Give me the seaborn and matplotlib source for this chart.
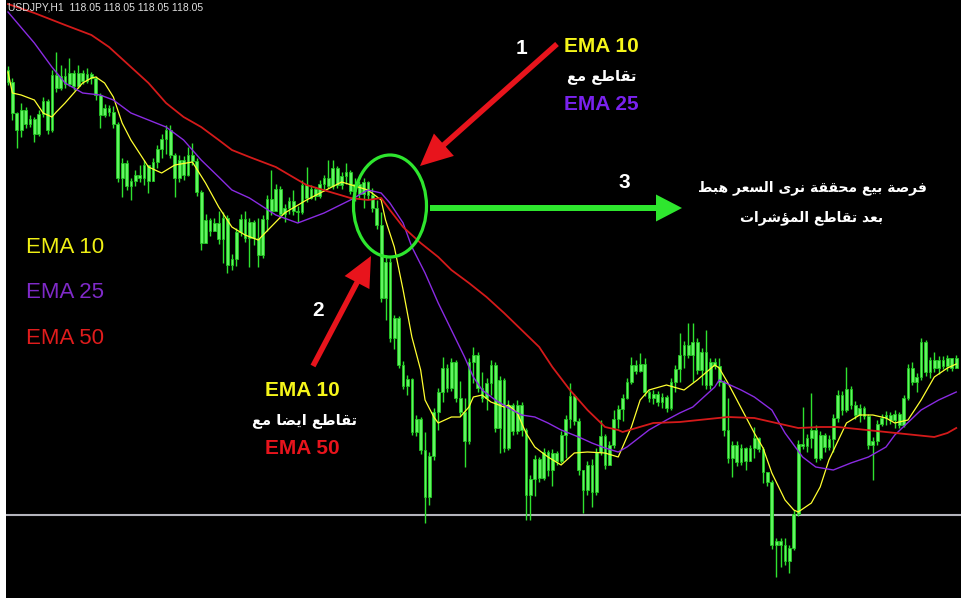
import numpy as np
import pandas as pd
import matplotlib
matplotlib.use("Agg")
import matplotlib.pyplot as plt
import seaborn as sns
from matplotlib.patches import Ellipse, Polygon
from matplotlib.lines import Line2D

# ---------------- data (USDJPY H1) ----------------
header = "USDJPY,H1  118.05 118.05 118.05 118.05"
first_open = 121.30
close = [121.18, 120.87, 120.70, 120.90, 120.76, 120.81, 120.66, 120.86, 120.99, 120.70,
         121.25, 121.12, 121.24, 121.16, 121.27, 121.14, 121.27, 121.19, 121.26, 121.22,
         121.05, 120.85, 120.92, 120.88, 120.76, 120.22, 120.37, 120.14, 120.19, 120.25,
         120.22, 120.35, 120.19, 120.38, 120.51, 120.61, 120.70, 120.45, 120.22, 120.40,
         120.25, 120.45, 120.39, 120.08, 119.57, 119.80, 119.69, 119.77, 119.61, 119.82,
         119.35, 119.41, 119.68, 119.81, 119.62, 119.78, 119.62, 119.45, 119.81, 120.01,
         119.89, 120.11, 119.86, 119.92, 119.99, 119.89, 119.88, 120.15, 120.02, 120.11,
         120.04, 120.16, 120.22, 120.14, 120.32, 120.15, 120.24, 120.28, 120.09, 120.16,
         120.06, 120.18, 120.05, 119.92, 119.75, 119.02, 119.38, 118.62, 118.82, 118.35,
         118.14, 118.21, 117.68, 117.81, 117.50, 117.03, 117.44, 117.88, 118.08, 118.32,
         118.12, 118.38, 118.02, 117.88, 117.59, 118.38, 118.45, 118.12, 118.02, 118.17,
         118.35, 117.72, 118.20, 117.52, 117.95, 117.69, 117.95, 117.70, 117.05, 117.21,
         117.41, 117.22, 117.48, 117.30, 117.47, 117.39, 117.65, 117.81, 118.04, 117.79,
         117.30, 117.10, 117.35, 117.08, 117.48, 117.64, 117.35, 117.55, 117.81, 117.91,
         118.02, 118.18, 118.35, 118.29, 118.36, 118.08, 118.02, 118.06, 117.98, 118.03,
         117.92, 118.18, 118.31, 118.45, 118.55, 118.45, 118.58, 118.30, 118.48, 118.15,
         118.38, 118.34, 118.18, 117.70, 117.42, 117.55, 117.38, 117.52, 117.39, 117.52,
         117.62, 117.51, 117.28, 117.18, 116.55, 116.59, 116.55, 116.39, 116.52, 116.86,
         117.56, 117.54, 117.62, 117.70, 117.42, 117.65, 117.53, 117.61, 117.82, 118.05,
         117.90, 118.11, 117.95, 117.85, 117.92, 117.84, 117.55, 117.59, 117.76, 117.82,
         117.85, 117.80, 117.86, 117.75, 118.02, 118.32, 118.18, 118.23, 118.58, 118.28,
         118.40, 118.32, 118.40, 118.34, 118.42, 118.32, 118.42]
high = [121.34, 121.22, 120.88, 120.97, 120.93, 120.85, 120.83, 120.90, 121.03, 121.01,
        121.30, 121.48, 121.35, 121.32, 121.42, 121.30, 121.35, 121.30, 121.32, 121.28,
        121.24, 121.07, 120.96, 120.95, 120.94, 120.78, 120.42, 120.40, 120.22, 120.30,
        120.35, 120.40, 120.34, 120.42, 120.55, 120.66, 120.75, 120.75, 120.47, 120.45,
        120.44, 120.53, 120.57, 120.42, 120.10, 119.86, 119.82, 119.82, 119.89, 119.88,
        119.85, 119.46, 119.72, 119.86, 119.89, 119.82, 119.80, 119.82, 119.85, 120.05,
        120.30, 120.16, 120.14, 119.96, 120.03, 120.10, 119.94, 120.20, 120.33, 120.15,
        120.13, 120.20, 120.25, 120.40, 120.40, 120.34, 120.28, 120.37, 120.30, 120.22,
        120.19, 120.22, 120.19, 120.12, 120.00, 119.88, 119.45, 119.42, 118.85, 118.84,
        118.39, 118.25, 118.22, 117.85, 117.83, 117.68, 117.48, 117.92, 118.12, 118.43,
        118.36, 118.42, 118.40, 118.19, 118.02, 118.42, 118.53, 118.48, 118.28, 118.22,
        118.40, 118.38, 118.24, 118.22, 118.00, 117.97, 118.00, 117.98, 117.72, 117.25,
        117.45, 117.43, 117.52, 117.50, 117.51, 117.49, 117.69, 117.85, 118.17, 118.06,
        117.82, 117.30, 117.39, 117.41, 117.52, 117.80, 117.66, 117.59, 117.90, 117.95,
        118.06, 118.22, 118.43, 118.40, 118.47, 118.42, 118.10, 118.10, 118.09, 118.07,
        118.05, 118.22, 118.35, 118.67, 118.59, 118.77, 118.77, 118.62, 118.52, 118.70,
        118.42, 118.42, 118.42, 118.20, 118.02, 117.59, 117.59, 117.56, 117.53, 117.55,
        117.73, 117.63, 117.53, 117.25, 117.20, 116.62, 116.62, 116.62, 116.55, 116.90,
        117.60, 117.93, 117.66, 118.07, 117.75, 117.69, 117.67, 117.65, 117.86, 118.10,
        118.09, 118.33, 118.14, 117.99, 117.96, 117.94, 117.86, 117.63, 117.80, 117.86,
        117.89, 117.88, 117.90, 117.88, 118.05, 118.36, 118.38, 118.27, 118.62, 118.60,
        118.43, 118.48, 118.44, 118.44, 118.45, 118.38, 118.45]
low = [121.15, 120.80, 120.52, 120.63, 120.72, 120.73, 120.58, 120.64, 120.83, 120.66,
       120.68, 121.08, 121.10, 121.12, 121.14, 121.10, 121.12, 121.16, 121.17, 121.16,
       121.00, 120.72, 120.83, 120.84, 120.72, 120.18, 120.03, 120.10, 120.00, 120.14,
       120.18, 120.15, 120.07, 120.20, 120.32, 120.42, 120.46, 120.42, 120.03, 120.18,
       120.20, 120.24, 120.35, 120.04, 119.50, 119.60, 119.64, 119.70, 119.56, 119.37,
       119.27, 119.30, 119.34, 119.64, 119.58, 119.33, 119.55, 119.33, 119.42, 119.69,
       119.85, 119.91, 119.82, 119.78, 119.86, 119.85, 119.78, 119.86, 119.98, 120.01,
       120.00, 120.02, 120.09, 120.12, 120.11, 120.12, 120.11, 120.16, 120.06, 119.99,
       120.02, 119.92, 120.01, 119.88, 119.71, 118.98, 118.80, 118.58, 118.51, 118.32,
       118.11, 118.05, 117.65, 117.64, 117.46, 116.77, 116.95, 117.40, 117.70, 117.98,
       118.08, 118.09, 117.98, 117.84, 117.33, 117.56, 118.17, 118.08, 117.98, 117.90,
       118.05, 117.68, 117.47, 117.48, 117.50, 117.65, 117.66, 117.64, 116.80, 116.80,
       117.04, 117.18, 117.20, 117.24, 117.14, 117.35, 117.37, 117.42, 117.72, 117.75,
       117.25, 116.87, 117.05, 116.93, 117.05, 117.45, 117.31, 117.37, 117.52, 117.72,
       117.79, 118.01, 118.16, 118.26, 118.28, 118.04, 117.98, 117.96, 117.94, 117.92,
       117.88, 117.90, 118.08, 118.18, 118.32, 118.42, 118.18, 118.26, 118.15, 118.11,
       118.11, 118.31, 118.14, 117.64, 117.37, 117.23, 117.34, 117.35, 117.30, 117.41,
       117.42, 117.48, 117.17, 117.14, 116.51, 116.23, 116.33, 116.35, 116.27, 116.50,
       116.84, 117.51, 117.48, 117.52, 117.38, 117.40, 117.48, 117.50, 117.48, 117.78,
       117.85, 117.88, 117.91, 117.81, 117.78, 117.81, 117.51, 117.20, 117.55, 117.74,
       117.75, 117.76, 117.72, 117.72, 117.73, 118.00, 118.15, 118.08, 118.20, 118.24,
       118.22, 118.28, 118.26, 118.31, 118.29, 118.29, 118.32]

# moving-average lines (candle index, price)
ema10_idx = [0, 1, 3, 6, 8, 10, 11, 13, 15, 17, 19, 20, 22, 24, 26, 28, 32, 35, 38, 42,
             45, 48, 51, 54, 57, 63, 68, 76, 82, 85, 86, 88, 90, 92, 94, 95, 97, 98, 101,
             103, 105, 106, 108, 110, 113, 114, 116, 118, 120, 123, 126, 129, 132, 136, 139,
             142, 144, 146, 150, 154, 157, 161, 162, 164, 170, 172, 174, 177, 179, 180, 183,
             185, 187, 191, 194, 197, 200, 202, 205, 208, 211, 214, 216]
ema10_val = [121.28, 121.07, 121.05, 121.00, 120.87, 120.83, 120.88, 120.97, 121.07, 121.17,
             121.22, 121.23, 121.17, 121.03, 120.77, 120.60, 120.33, 120.27, 120.35, 120.38,
             120.17, 119.93, 119.73, 119.65, 119.60, 119.87, 120.00, 120.18, 120.10, 120.00,
             119.80, 119.53, 119.10, 118.63, 118.30, 118.00, 117.83, 117.77, 117.83,
             117.83, 117.93, 118.03, 118.05, 117.98, 117.93, 117.95, 117.87, 117.67, 117.53,
             117.43, 117.35, 117.47, 117.48, 117.47, 117.43,
             117.73, 118.00, 118.10, 118.15, 118.10, 118.20, 118.35, 118.32, 118.17, 117.67,
             117.52, 117.27, 117.00, 116.90, 116.88, 116.97,
             117.13, 117.40, 117.77, 117.85, 117.85, 117.82, 117.77, 117.80, 118.00, 118.23,
             118.32, 118.36]
ema25_idx = [0, 6, 10, 13, 17, 21, 24, 28, 32, 36, 40, 44, 48, 51, 55, 61, 66, 72, 78, 82,
             85, 87, 90, 92, 95, 98, 101, 104, 106, 108, 111, 114, 117, 120, 123, 126, 130,
             133, 136, 139, 141, 146, 150, 153, 156, 161, 162, 167, 170, 174, 177, 181, 184,
             188, 192, 196, 200, 202, 208, 212, 216]
ema25_val = [121.88, 121.57, 121.33, 121.17, 121.07, 121.05, 121.00, 120.87, 120.80, 120.73,
             120.60, 120.40, 120.23, 120.10, 120.02, 119.85, 119.77, 119.87, 120.00, 120.10,
             120.07, 119.97, 119.77, 119.53, 119.27, 118.97, 118.70, 118.43, 118.23, 118.10,
             118.00, 117.92, 117.85, 117.83, 117.77, 117.70, 117.63,
             117.57, 117.52, 117.48, 117.53, 117.70, 117.80, 117.87, 117.93, 118.13, 118.20,
             118.10, 118.03, 117.90, 117.67, 117.43, 117.33,
             117.30, 117.37, 117.43, 117.53, 117.65, 117.90, 118.00, 118.08]
ema50_idx = [0, 6, 13, 19, 23, 28, 32, 36, 40, 44, 48, 51, 55, 61, 68, 78, 82, 85, 87, 90,
             94, 98, 101, 105, 109, 113, 117, 121, 124, 128, 132, 136, 139, 140, 147, 153,
             164, 170, 175, 180, 185, 189, 200, 211, 214, 216]
ema50_val = [121.96, 121.87, 121.75, 121.65, 121.53, 121.33, 121.17, 120.97, 120.83, 120.73,
             120.60, 120.50, 120.43, 120.33, 120.15, 120.02, 120.00, 120.02, 119.90, 119.73,
             119.57, 119.43, 119.30, 119.17, 119.03, 118.87, 118.70, 118.53, 118.33, 118.10,
             117.90, 117.73, 117.70, 117.68, 117.77, 117.78,
             117.83, 117.82, 117.77, 117.72, 117.73, 117.73, 117.68, 117.63, 117.67, 117.72]
ema_names = ["EMA 10", "EMA 25", "EMA 50"]
support_level = 116.85

# ---------------- Arabic shaping (presentation forms, visual order) ----------------
FORMS = {
    "ا": ("\uFE8D", "\uFE8E", None, None), "ب": ("\uFE8F", "\uFE90", "\uFE91", "\uFE92"),
    "ة": ("\uFE93", "\uFE94", None, None), "ت": ("\uFE95", "\uFE96", "\uFE97", "\uFE98"),
    "ح": ("\uFEA1", "\uFEA2", "\uFEA3", "\uFEA4"), "د": ("\uFEA9", "\uFEAA", None, None),
    "ر": ("\uFEAD", "\uFEAE", None, None), "س": ("\uFEB1", "\uFEB2", "\uFEB3", "\uFEB4"),
    "ش": ("\uFEB5", "\uFEB6", "\uFEB7", "\uFEB8"), "ص": ("\uFEB9", "\uFEBA", "\uFEBB", "\uFEBC"),
    "ض": ("\uFEBD", "\uFEBE", "\uFEBF", "\uFEC0"), "ط": ("\uFEC1", "\uFEC2", "\uFEC3", "\uFEC4"),
    "ع": ("\uFEC9", "\uFECA", "\uFECB", "\uFECC"), "ف": ("\uFED1", "\uFED2", "\uFED3", "\uFED4"),
    "ق": ("\uFED5", "\uFED6", "\uFED7", "\uFED8"), "ل": ("\uFEDD", "\uFEDE", "\uFEDF", "\uFEE0"),
    "م": ("\uFEE1", "\uFEE2", "\uFEE3", "\uFEE4"), "ن": ("\uFEE5", "\uFEE6", "\uFEE7", "\uFEE8"),
    "ه": ("\uFEE9", "\uFEEA", "\uFEEB", "\uFEEC"), "و": ("\uFEED", "\uFEEE", None, None),
    "ى": ("\uFEEF", "\uFEF0", None, None), "ي": ("\uFEF1", "\uFEF2", "\uFEF3", "\uFEF4"),
    "ؤ": ("\uFE85", "\uFE86", None, None),
}


def shape_ar(s):
    out = []
    for i, ch in enumerate(s):
        f = FORMS.get(ch)
        if f is None:
            out.append(ch)
            continue
        prev = s[i - 1] if i > 0 else None
        nxt = s[i + 1] if i + 1 < len(s) else None
        jp = prev in FORMS and FORMS[prev][2] is not None
        jn = nxt in FORMS and f[2] is not None
        if jp and jn:
            out.append(f[3])
        elif jp:
            out.append(f[1])
        elif jn:
            out.append(f[2])
        else:
            out.append(f[0])
    return "".join(reversed(out))


# ---------------- build frames ----------------
n = len(close)
opens = [first_open] + close[:-1]
df = pd.DataFrame({"i": np.arange(n), "open": opens, "close": close, "high": high, "low": low})
df["high"] = df[["high", "open", "close"]].max(axis=1)
df["low"] = df[["low", "open", "close"]].min(axis=1)

ema_df = pd.concat([
    pd.DataFrame({"i": ema10_idx, "price": ema10_val, "line": "EMA 10"}),
    pd.DataFrame({"i": ema25_idx, "price": ema25_val, "line": "EMA 25"}),
    pd.DataFrame({"i": ema50_idx, "price": ema50_val, "line": "EMA 50"}),
], ignore_index=True)

# ---------------- figure ----------------
W, H = 962, 598
fig = plt.figure(figsize=(W / 100, H / 100), dpi=100, facecolor="white")
ax = fig.add_axes([6 / W, 0, (W - 6) / W, 1])
ax.set_facecolor("black")
for sp in ax.spines.values():
    sp.set_visible(False)

step = 4.39
ax.set_xlim((6 - 8) / step, (962 - 8) / step)
ax.set_ylim(122.00 - 5.98, 122.00)

# support line
ax.axhline(support_level, color="#b4b4bc", lw=1.5, zorder=1)

# candles
ax.vlines(df["i"], df["low"], df["high"], color="#2fe22f", lw=1.0, zorder=2)
body_lo = np.minimum(df["open"], df["close"])
body_h = np.maximum(np.abs(df["close"] - df["open"]), 0.015)
ax.bar(df["i"], body_h, bottom=body_lo, width=0.62, color="#62f562",
       edgecolor="#22c822", linewidth=0.6, zorder=2)

# moving averages
palette = {"EMA 10": "#ffff30", "EMA 25": "#8a2be2", "EMA 50": "#d41a1a"}
sizes = {"EMA 10": 0.9, "EMA 25": 1.0, "EMA 50": 1.3}
sns.lineplot(data=ema_df, x="i", y="price", hue="line", palette=palette,
             size="line", sizes=sizes, legend=False, ax=ax, zorder=3, sort=False)
for ln in ax.get_lines():
    ln.set_solid_joinstyle("round")
ax.set_xlabel("")
ax.set_ylabel("")
ax.set_xticks([])
ax.set_yticks([])


def fxy(x, y):
    return (x / W, 1 - y / H)


def text(x, y, s, color, size, bold=False, ha="center", family=None):
    fam = family or ["Liberation Sans", "DejaVu Sans"]
    fig.text(*fxy(x, y), s, color=color, fontsize=size, ha=ha, va="center",
             fontweight="bold" if bold else "normal", family=fam)


def arrow(x0, y0, x1, y1, color, lw_px, head_len, head_w):
    d = np.array([x1 - x0, y1 - y0], float)
    u = d / np.hypot(*d)
    nrm = np.array([-u[1], u[0]])
    tip = np.array([x1, y1], float)
    base = tip - u * head_len
    fig.add_artist(Line2D([x0 / W, (base[0] + u[0] * 2) / W], [1 - y0 / H, 1 - (base[1] + u[1] * 2) / H],
                          color=color, lw=lw_px * 0.72, solid_capstyle="butt"))
    pts = [tip, base + nrm * head_w / 2, base - nrm * head_w / 2]
    fig.add_artist(Polygon([fxy(px, py) for px, py in pts], closed=True, color=color, lw=0))


AR = ["DejaVu Sans"]

# header
text(8, 7, header, "#e0e0e0", 7.5, ha="left")

# left legend
text(26, 248, "EMA 10", "#f0f014", 16, ha="left")
text(26, 292, "EMA 25", "#7f2ac8", 16, ha="left")
text(26, 338, "EMA 50", "#e01c1c", 16, ha="left")

# annotation 1
arrow(557, 44, 420, 166, "#e8141c", 5.5, 32, 30)
text(522, 48, "1", "white", 15, bold=True)
text(601, 47, "EMA 10", "#f5f51a", 15, bold=True)
text(602, 77, shape_ar("تقاطع مع"), "white", 10.5, bold=True, family=AR)
text(601, 104, "EMA 25", "#7a22ee", 15, bold=True)

# circle at the crossing
fig.add_artist(Ellipse(fxy(390, 206), 73 / W, 102 / H, fill=False, edgecolor="#2ee62e", lw=2.3))

# annotation 2
arrow(313, 366, 371, 256, "#e8141c", 5.5, 30, 28)
text(318, 310, "2", "white", 15, bold=True)
text(302, 390, "EMA 10", "#f5f51a", 15, bold=True)
text(305, 420, shape_ar("تقاطع ايضا مع"), "white", 10.5, bold=True, family=AR)
text(302, 448, "EMA 50", "#e8141c", 15, bold=True)

# annotation 3
arrow(430, 208, 682, 208, "#2ee62e", 6, 26, 27)
text(624, 183, "3", "white", 15, bold=True)
text(812, 188, shape_ar("فرصة بيع محققة نرى السعر هبط"), "white", 10, bold=True, family=AR)
text(812, 218, shape_ar("بعد تقاطع المؤشرات"), "white", 10, bold=True, family=AR)

fig.savefig("out.png", dpi=100, facecolor="white")
